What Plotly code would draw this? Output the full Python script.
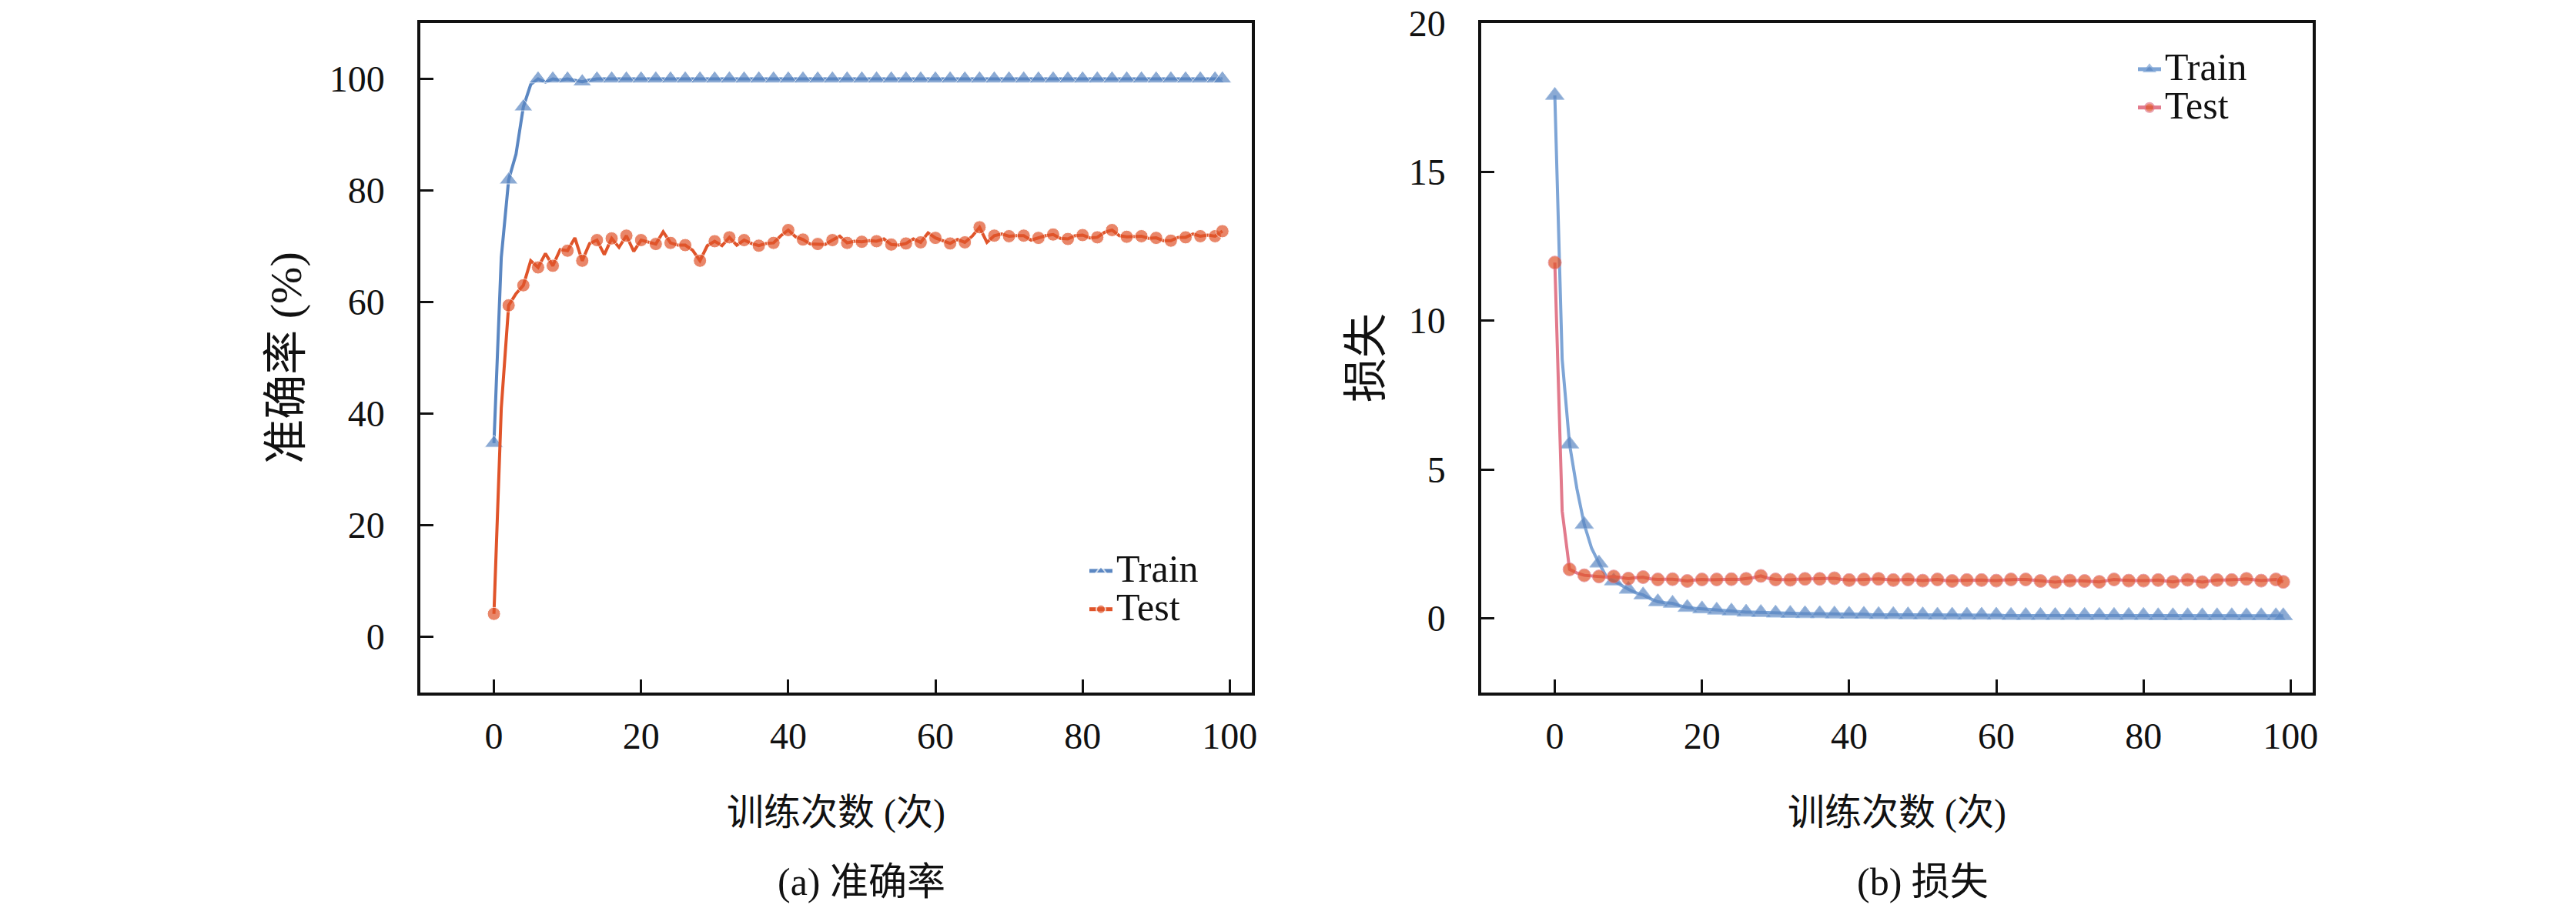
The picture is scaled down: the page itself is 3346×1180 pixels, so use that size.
import plotly.graph_objects as go

# Données : 100 époques d'entraînement
epochs = list(range(100))

acc_train = [
    34.7, 68.0, 81.9, 86.5, 95.0, 99.0, 100.0, 99.4, 100.0, 99.8,
    100.0, 99.8, 99.5, 99.8, 100.0, 100.0, 100.0, 100.0, 100.0, 100.0,
    100.0, 100.0, 100.0, 100.0, 100.0, 100.0, 100.0, 100.0, 100.0, 100.0,
    100.0, 100.0, 100.0, 100.0, 100.0, 100.0, 100.0, 100.0, 100.0, 100.0,
    100.0, 100.0, 100.0, 100.0, 100.0, 100.0, 100.0, 100.0, 100.0, 100.0,
    100.0, 100.0, 100.0, 100.0, 100.0, 100.0, 100.0, 100.0, 100.0, 100.0,
    100.0, 100.0, 100.0, 100.0, 100.0, 100.0, 100.0, 100.0, 100.0, 100.0,
    100.0, 100.0, 100.0, 100.0, 100.0, 100.0, 100.0, 100.0, 100.0, 100.0,
    100.0, 100.0, 100.0, 100.0, 100.0, 100.0, 100.0, 100.0, 100.0, 100.0,
    100.0, 100.0, 100.0, 100.0, 100.0, 100.0, 100.0, 100.0, 100.0, 100.0,
]

acc_test = [
    4.1, 41.0, 59.4, 61.5, 63.0, 67.4, 66.2, 68.7, 66.5, 69.4,
    69.2, 71.5, 67.4, 70.5, 71.1, 68.5, 71.4, 69.8, 71.9, 69.1,
    71.1, 70.8, 70.4, 72.6, 70.6, 70.2, 70.2, 69.3, 67.4, 70.1,
    70.9, 70.1, 71.6, 70.2, 71.1, 70.5, 70.1, 70.5, 70.6, 71.9,
    72.9, 71.7, 71.2, 70.4, 70.4, 70.3, 71.1, 71.8, 70.6, 70.9,
    70.8, 71.0, 70.9, 71.3, 70.3, 70.2, 70.5, 71.3, 70.7, 72.4,
    71.5, 71.0, 70.5, 71.2, 70.7, 71.8, 73.4, 70.7, 71.9, 72.2,
    71.8, 71.9, 71.9, 71.1, 71.5, 71.9, 72.1, 71.4, 71.3, 71.9,
    72.0, 71.5, 71.6, 72.5, 72.9, 71.9, 71.7, 71.8, 71.8, 71.4,
    71.5, 71.0, 71.0, 71.6, 71.6, 72.2, 71.8, 72.0, 71.8, 72.7,
]

loss_train = [
    17.57, 8.70, 5.85, 4.35, 3.15, 2.35, 1.85, 1.40, 1.25, 1.10,
    0.97, 0.85, 0.78, 0.65, 0.55, 0.52, 0.50, 0.42, 0.36, 0.33,
    0.31, 0.29, 0.27, 0.26, 0.24, 0.22, 0.20, 0.20, 0.19, 0.18,
    0.17, 0.17, 0.16, 0.16, 0.15, 0.15, 0.15, 0.14, 0.14, 0.14,
    0.13, 0.13, 0.13, 0.12, 0.12, 0.12, 0.12, 0.11, 0.11, 0.11,
    0.11, 0.10, 0.10, 0.10, 0.10, 0.10, 0.10, 0.10, 0.10, 0.10,
    0.10, 0.09, 0.09, 0.09, 0.09, 0.09, 0.09, 0.09, 0.09, 0.09,
    0.09, 0.09, 0.09, 0.09, 0.09, 0.09, 0.09, 0.09, 0.09, 0.09,
    0.09, 0.08, 0.08, 0.08, 0.08, 0.08, 0.08, 0.08, 0.08, 0.08,
    0.08, 0.08, 0.08, 0.08, 0.08, 0.08, 0.08, 0.08, 0.08, 0.08,
]

loss_test = [
    11.95, 3.60, 1.64, 1.52, 1.44, 1.42, 1.40, 1.38, 1.40, 1.36,
    1.33, 1.36, 1.38, 1.32, 1.30, 1.31, 1.31, 1.28, 1.25, 1.28,
    1.30, 1.29, 1.30, 1.30, 1.31, 1.30, 1.32, 1.36, 1.42, 1.34,
    1.30, 1.29, 1.29, 1.31, 1.32, 1.32, 1.32, 1.33, 1.34, 1.30,
    1.28, 1.29, 1.30, 1.31, 1.32, 1.30, 1.28, 1.29, 1.30, 1.28,
    1.26, 1.28, 1.30, 1.27, 1.25, 1.27, 1.28, 1.28, 1.28, 1.27,
    1.26, 1.28, 1.30, 1.30, 1.30, 1.28, 1.25, 1.23, 1.21, 1.24,
    1.26, 1.26, 1.25, 1.23, 1.22, 1.26, 1.30, 1.28, 1.26, 1.26,
    1.26, 1.27, 1.28, 1.25, 1.22, 1.26, 1.29, 1.25, 1.21, 1.25,
    1.28, 1.28, 1.28, 1.30, 1.32, 1.29, 1.26, 1.28, 1.30, 1.22,
]

x_ticks = [0, 20, 40, 60, 80, 100]
acc_ticks = [0, 20, 40, 60, 80, 100]
loss_ticks = [0, 5, 10, 15, 20]

# la page ajoute une marge de 8 px autour du graphique
OFF = 8
W, H = 3346 - OFF, 1180 - OFF


def px(x):
    return (x - OFF) / W


def py(y):
    return 1 - (y - OFF) / H


FONT = "Liberation Serif, Times New Roman, Noto Sans CJK SC"
INK = "#111111"
BLUE = "#5b87c2"
BLUE_LIGHT = "#7ea5d6"
RED = "#e0542a"
PINK = "#e27a8c"

# marqueurs une époque sur deux (et la dernière)
tri_size = [21 if (e % 2 == 0 or e == epochs[-1]) else 0 for e in epochs]
dot_size = [17 if (e % 2 == 0 or e == epochs[-1]) else 0 for e in epochs]


def legend_name(s):
    return f'<span style="font-size:50px">{s}</span>'


fig = go.Figure()

fig.add_trace(go.Scatter(
    x=epochs, y=acc_train, name=legend_name("Train"), mode="lines+markers",
    line=dict(color=BLUE, width=4),
    marker=dict(symbol="triangle-up", size=tri_size, color=BLUE),
    xaxis="x", yaxis="y", legend="legend",
))
fig.add_trace(go.Scatter(
    x=epochs, y=acc_test, name=legend_name("Test"), mode="lines+markers",
    line=dict(color=RED, width=4),
    marker=dict(symbol="circle", size=dot_size, color=RED),
    xaxis="x", yaxis="y", legend="legend",
))
fig.add_trace(go.Scatter(
    x=epochs, y=loss_train, name=legend_name("Train"), mode="lines+markers",
    line=dict(color=BLUE_LIGHT, width=4),
    marker=dict(symbol="triangle-up", size=tri_size, color=BLUE),
    xaxis="x2", yaxis="y2", legend="legend2",
))
fig.add_trace(go.Scatter(
    x=epochs, y=loss_test, name=legend_name("Test"), mode="lines+markers",
    line=dict(color=PINK, width=4),
    marker=dict(symbol="circle", size=dot_size, color=RED),
    xaxis="x2", yaxis="y2", legend="legend2",
))

frame = dict(showline=True, linecolor=INK, linewidth=3.5, mirror=True,
             showgrid=False, zeroline=False, ticks="inside", ticklen=17,
             tickwidth=3, tickcolor=INK, automargin=False,
             ticklabeloverflow="allow",
             tickfont=dict(family=FONT, size=48, color=INK))

xdom_a = [px(546), px(1626)]
xdom_b = [px(1924), px(3004)]
ydom = [py(900), py(30)]

x_title = dict(text="训练次数 (次)", standoff=57,
               font=dict(family=FONT, size=48, color=INK))

legend_style = dict(xanchor="left", yanchor="top", bgcolor="rgba(0,0,0,0)",
                    itemsizing="constant",
                    font=dict(family=FONT, size=36, color=INK))

fig.update_layout(
    width=W, height=H,
    margin=dict(l=0, r=0, t=0, b=0),
    paper_bgcolor="white", plot_bgcolor="white",
    font=dict(family=FONT, size=48, color=INK),
    xaxis=dict(frame, domain=xdom_a, range=[-10, 103], tickvals=x_ticks,
               anchor="y", ticklabelstandoff=12, title=x_title),
    yaxis=dict(frame, domain=ydom, range=[-10, 110], tickvals=acc_ticks,
               anchor="x", ticklabelstandoff=33,
               title=dict(text="准确率 (%)", standoff=18)),
    xaxis2=dict(frame, domain=xdom_b, range=[-10, 103], tickvals=x_ticks,
                anchor="y2", ticklabelstandoff=12, title=x_title),
    yaxis2=dict(frame, domain=ydom, range=[-2.5, 20.0001], tickvals=loss_ticks,
                anchor="x2", ticklabelstandoff=33,
                title=dict(text="损失", standoff=17)),
    legend=dict(legend_style, x=px(1410), y=py(712)),
    legend2=dict(legend_style, x=px(2772), y=py(60)),
    annotations=[
        dict(text="(a) 准确率", xref="x", x=50, yref="paper", y=py(1146),
             showarrow=False, yanchor="middle",
             font=dict(family=FONT, size=50, color=INK)),
        dict(text="(b) 损失", xref="x2", x=50, yref="paper", y=py(1146),
             showarrow=False, yanchor="middle",
             font=dict(family=FONT, size=50, color=INK)),
    ],
)

fig.write_html("out.html")
